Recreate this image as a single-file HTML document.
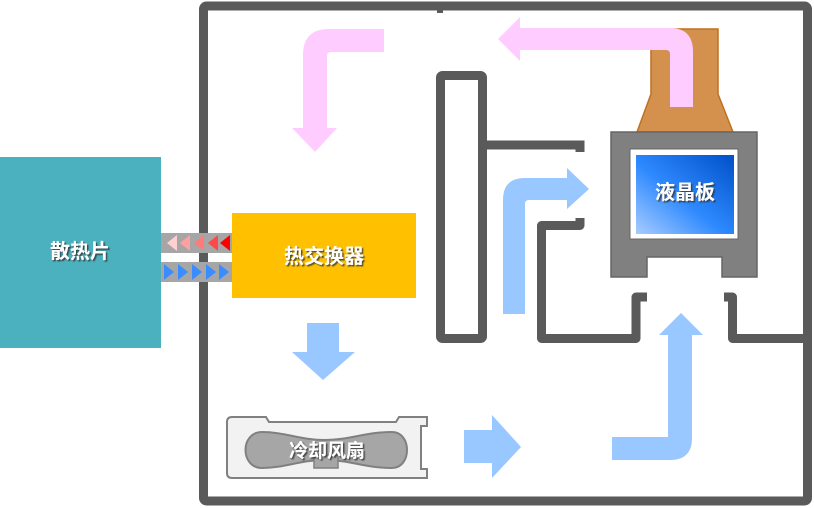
<!DOCTYPE html>
<html><head><meta charset="utf-8"><style>
html,body{margin:0;padding:0;background:#fff;}
svg{display:block;}
text{font-family:"Liberation Sans","Noto Sans CJK SC",sans-serif;font-weight:bold;fill:#fff;}
</style></head><body>
<svg width="814" height="508" viewBox="0 0 814 508" xmlns="http://www.w3.org/2000/svg">
<defs>
<linearGradient id="lcd" x1="0" y1="1" x2="1" y2="0">
<stop offset="0" stop-color="#a8ccff"/><stop offset="0.45" stop-color="#2f8aff"/><stop offset="1" stop-color="#0050c8"/>
</linearGradient>
<filter id="sh" x="-10%" y="-10%" width="130%" height="140%"><feDropShadow dx="1.5" dy="1.5" stdDeviation="0.6" flood-color="#333" flood-opacity="0.8"/></filter>
</defs>
<rect x="0" y="157" width="161" height="191" fill="#4bb1be"/>
<text x="80" y="258" font-size="20" text-anchor="middle" filter="url(#sh)">散热片</text>
<rect x="203.5" y="6" width="604" height="495" rx="3" fill="none" stroke="#5a5a5a" stroke-width="9"/>
<rect x="437" y="4" width="6" height="9" fill="#5a5a5a"/>
<rect x="161" y="233" width="71" height="20" fill="#a6a6a6"/>
<rect x="161" y="262" width="71" height="20" fill="#a6a6a6"/>
<g>
<polygon points="167,243 177,235 177,251" fill="#ffd0d0"/>
<polygon points="180,243 190,235 190,251" fill="#ffa0a0"/>
<polygon points="194,243 204,235 204,251" fill="#ff7a7a"/>
<polygon points="208,243 218,235 218,251" fill="#ff4848"/>
<polygon points="220,243 230,235 230,251" fill="#ff0000"/>
<polygon points="164,264 174,272 164,280" fill="#3a8cff"/>
<polygon points="178,264 188,272 178,280" fill="#3a8cff"/>
<polygon points="192,264 202,272 192,280" fill="#3a8cff"/>
<polygon points="206,264 216,272 206,280" fill="#3a8cff"/>
<polygon points="219,264 229,272 219,280" fill="#3a8cff"/>
</g>
<rect x="232" y="213" width="184" height="85" fill="#ffc000"/>
<text x="324" y="263" font-size="20" text-anchor="middle" filter="url(#sh)">热交换器</text>
<polygon points="307,323 339,323 339,352 355,352 323,380 292,352 307,352" fill="#99c7ff"/>
<path d="M232,417 H266 l3,5 H396 l3,-5 H427 V426 H421 V469 H427 V478 H232 Q227,478 227,473 V422 Q227,417 232,417 Z" fill="#f2f2f2" stroke="#808080" stroke-width="2"/>
<path d="M262,432 C285,432 300,440 325,440 C350,440 365,432 392,432 C412,432 412,468 392,468 C365,468 350,460 325,460 C300,460 285,468 262,468 C240,468 240,432 262,432 Z" fill="#a6a6a6" stroke="#808080" stroke-width="2"/>
<rect x="314" y="455" width="24" height="13" fill="#a6a6a6" stroke="#808080" stroke-width="1.5"/>
<text x="327" y="457" font-size="19" text-anchor="middle" filter="url(#sh)">冷却风扇</text>
<polygon points="464,430 492,430 492,415 521,447 492,478 492,463 464,463" fill="#99c7ff"/>
<path d="M612,437 H668 V335 H659 L681,313 L703,335 H692 V438 Q692,460 670,460 H612 Z" fill="#99c7ff"/>
<path d="M384,29 V52 H331 Q327,52 327,56 V128 H337 L315,152 L292,128 H303 V55 Q303,29 329,29 Z" fill="#ffccff"/>
<path d="M651,29 H718 V94 L733,132 H637 L651,94 Z" fill="#d4914e" stroke="#c07020" stroke-width="1.5"/>
<path d="M670,107 V54 Q670,50 666,50 H520 V61 L498,39 L520,17 V28 H670 Q693,28 693,52 V107 Z" fill="#ffccff"/>
<rect x="440.5" y="75.5" width="42" height="263" rx="2" fill="none" stroke="#5a5a5a" stroke-width="9"/>
<path d="M487,145 H580 V152" fill="none" stroke="#5a5a5a" stroke-width="9"/>
<path d="M580,218 V225.5 H541.5 V338.5 H636 V297 H647" fill="none" stroke="#5a5a5a" stroke-width="9" stroke-linejoin="round"/>
<path d="M724,297 H732.5 V338.5 H808" fill="none" stroke="#5a5a5a" stroke-width="9" stroke-linejoin="round"/>
<path d="M503,314 V200 Q503,178 525,178 H567 V168 L589,189 L567,209 V200 H529 Q525,200 525,204 V314 Z" fill="#99c7ff"/>
<path d="M611,132 H757 V277 H722 V257 H647 V277 H611 Z" fill="#808080" stroke="#666" stroke-width="1.5"/>
<rect x="630" y="149" width="108" height="90" fill="#fff" stroke="#666" stroke-width="1"/>
<rect x="636" y="155" width="98" height="79" fill="url(#lcd)"/>
<text x="685" y="199" font-size="20" text-anchor="middle" filter="url(#sh)">液晶板</text>
</svg>
</body></html>
